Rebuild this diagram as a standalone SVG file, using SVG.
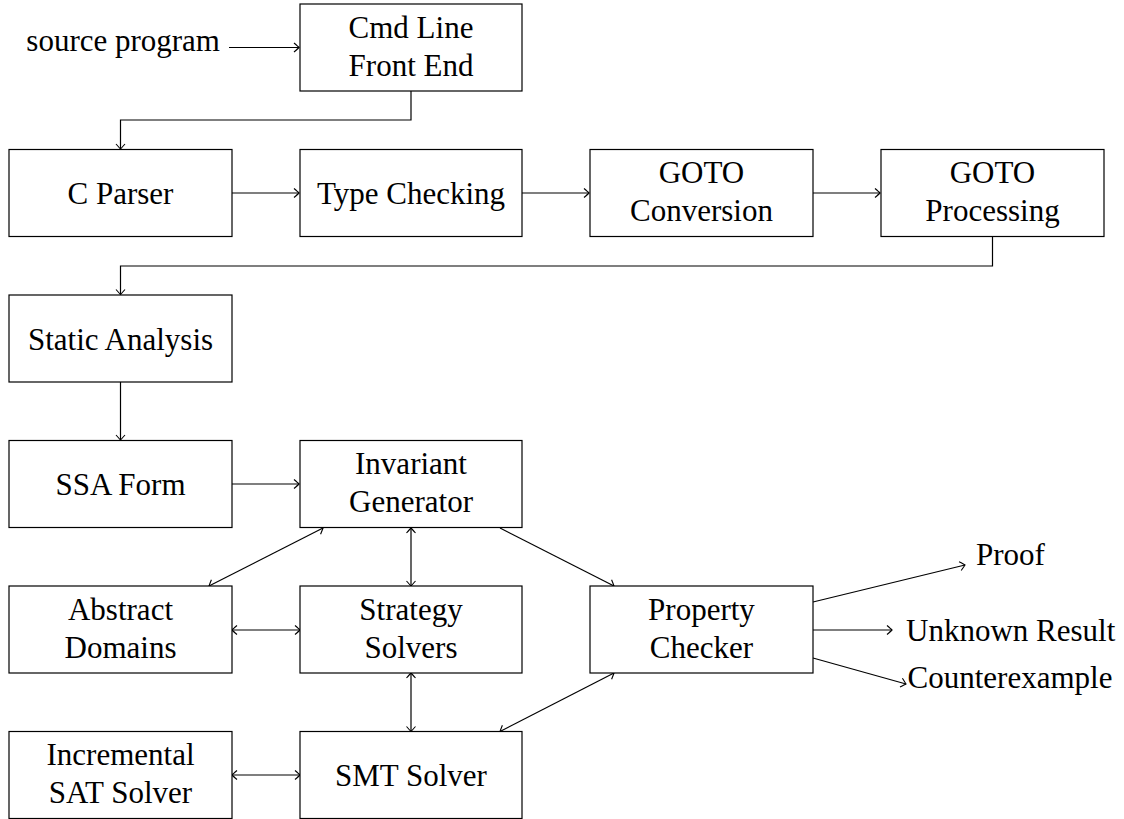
<svg xmlns="http://www.w3.org/2000/svg" width="1124" height="819" viewBox="0 0 1124 819">
<style>
.box{fill:#fff;stroke:#000;stroke-width:1.2}
.t{font-family:"Liberation Serif","Times New Roman",serif;font-size:31px;fill:#000;text-anchor:middle}
.e{stroke:#000;stroke-width:1.2;fill:none}
.a{marker-end:url(#ah)}
.b{marker-start:url(#as);marker-end:url(#ah)}
</style>
<defs>
<marker id="ah" markerUnits="userSpaceOnUse" markerWidth="12" markerHeight="12" viewBox="-8 -6 10 12" refX="0" refY="0" orient="auto">
<path d="M-5,-4.5 Q-1,-1 0,0 Q-1,1 -5,4.5" fill="none" stroke="#000" stroke-width="1.1"/>
</marker>
<marker id="as" markerUnits="userSpaceOnUse" markerWidth="12" markerHeight="12" viewBox="-2 -6 10 12" refX="0" refY="0" orient="auto">
<path d="M5,-4.5 Q1,-1 0,0 Q1,1 5,4.5" fill="none" stroke="#000" stroke-width="1.1"/>
</marker>
</defs>
<g id="connectors">
<path class="e a" d="M229,47.5 H299"/>
<path class="e a" d="M411,91 V120 H120.5 V149"/>
<path class="e a" d="M232,193 H299"/>
<path class="e a" d="M522,193 H589"/>
<path class="e a" d="M813,193 H880"/>
<path class="e a" d="M992.5,236.5 V266 H120.5 V294.5"/>
<path class="e a" d="M120.5,382 V440"/>
<path class="e a" d="M232,484 H299"/>
<path class="e b" d="M323,528 L209,586"/>
<path class="e b" d="M411,528 V586"/>
<path class="e a" d="M500,528 L614,586"/>
<path class="e b" d="M232,630 H300"/>
<path class="e b" d="M411,673 V731.5"/>
<path class="e b" d="M614,673 L500,731.5"/>
<path class="e b" d="M232,775 H300"/>
<path class="e a" d="M813,602 L965,565"/>
<path class="e a" d="M813,630 H892"/>
<path class="e a" d="M813,658 L906,684"/>
</g>
<text class="t" x="220" y="51" style="text-anchor:end">source program</text>
<g id="cmd"><rect class="box" x="300" y="4" width="222" height="87"/><text class="t" x="411" y="38">Cmd Line</text><text class="t" x="411" y="76">Front End</text></g>
<g id="cparser"><rect class="box" x="9" y="149.5" width="223" height="87"/><text class="t" x="120.5" y="204">C Parser</text></g>
<g id="typecheck"><rect class="box" x="300" y="149.5" width="222" height="87"/><text class="t" x="411" y="204">Type Checking</text></g>
<g id="gotoconv"><rect class="box" x="590" y="149.5" width="223" height="87"/><text class="t" x="701.5" y="183">GOTO</text><text class="t" x="701.5" y="221">Conversion</text></g>
<g id="gotoproc"><rect class="box" x="881" y="149.5" width="223" height="87"/><text class="t" x="992.5" y="183">GOTO</text><text class="t" x="992.5" y="221">Processing</text></g>
<g id="static"><rect class="box" x="9" y="295" width="223" height="87"/><text class="t" x="120.5" y="349.5">Static Analysis</text></g>
<g id="ssa"><rect class="box" x="9" y="440.5" width="223" height="87"/><text class="t" x="120.5" y="495">SSA Form</text></g>
<g id="invgen"><rect class="box" x="300" y="440.5" width="222" height="87"/><text class="t" x="411" y="474">Invariant</text><text class="t" x="411" y="512">Generator</text></g>
<g id="absdom"><rect class="box" x="9" y="586" width="223" height="87"/><text class="t" x="120.5" y="620">Abstract</text><text class="t" x="120.5" y="658">Domains</text></g>
<g id="strategy"><rect class="box" x="300" y="586" width="222" height="87"/><text class="t" x="411" y="620">Strategy</text><text class="t" x="411" y="658">Solvers</text></g>
<g id="propcheck"><rect class="box" x="590" y="586" width="223" height="87"/><text class="t" x="701.5" y="620">Property</text><text class="t" x="701.5" y="658">Checker</text></g>
<g id="satsolver"><rect class="box" x="9" y="731.5" width="223" height="87"/><text class="t" x="120.5" y="765">Incremental</text><text class="t" x="120.5" y="803">SAT Solver</text></g>
<g id="smtsolver"><rect class="box" x="300" y="731.5" width="222" height="87"/><text class="t" x="411" y="786">SMT Solver</text></g>
<text class="t" x="976" y="565" style="text-anchor:start">Proof</text>
<text class="t" x="906" y="641" style="text-anchor:start">Unknown Result</text>
<text class="t" x="1010" y="688">Counterexample</text>
</svg>
